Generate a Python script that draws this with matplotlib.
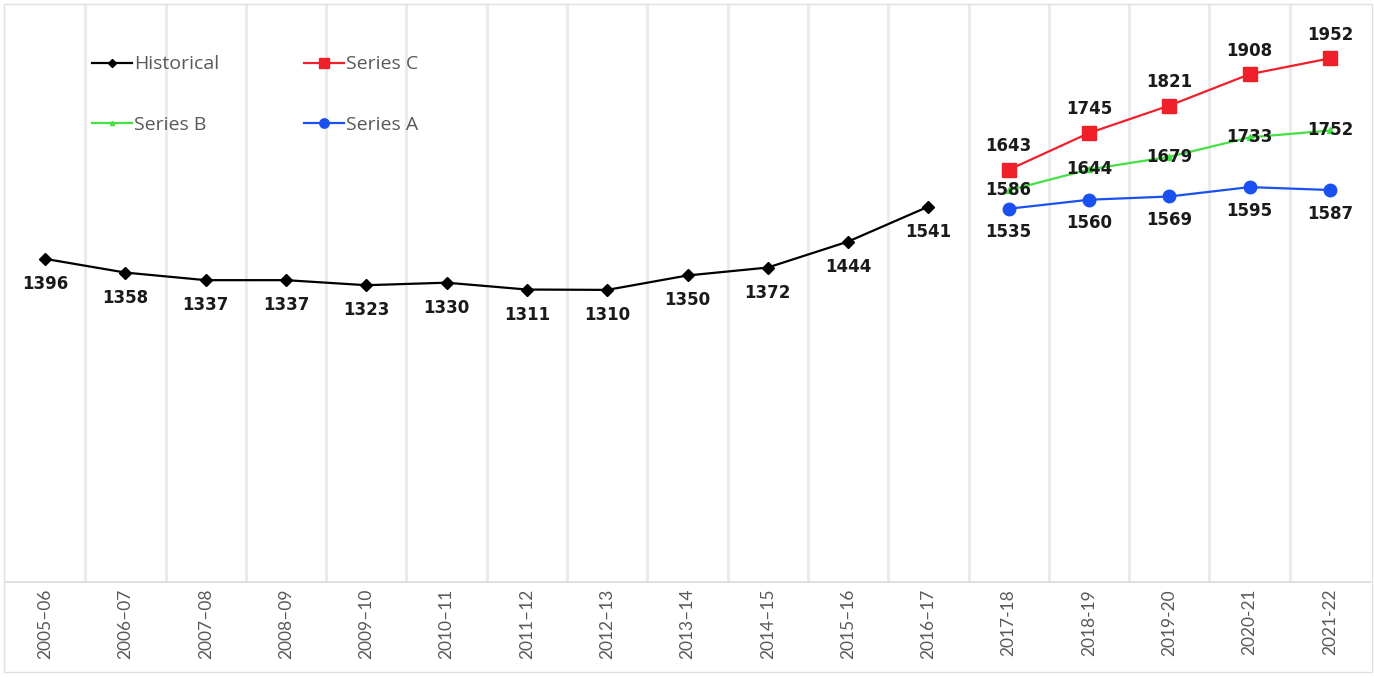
import matplotlib.pyplot as plt
from matplotlib.patches import Rectangle

years = ['2005–06', '2006–07', '2007–08', '2008–09', '2009–10', '2010–11',
         '2011–12', '2012–13', '2013–14', '2014–15', '2015–16', '2016–17',
         '2017-18', '2018-19', '2019-20', '2020-21', '2021-22']
historical = [1396, 1358, 1337, 1337, 1323, 1330, 1311, 1310, 1350, 1372, 1444, 1541]
series_c = [1643, 1745, 1821, 1908, 1952]
series_b = [1586, 1644, 1679, 1733, 1752]
series_a = [1535, 1560, 1569, 1595, 1587]

fig = plt.figure(figsize=(13.74, 6.77), dpi=100)
ax = fig.add_axes([5 / 1374, 95 / 677, 1365 / 1374, 577 / 677])

xh = list(range(len(historical)))
xp = list(range(len(historical), len(years)))

lh, = ax.plot(xh, historical, color='black', lw=1.6, marker='D', ms=6, label='Historical', zorder=3)
lc, = ax.plot(xp, series_c, color='#f0202a', lw=1.6, marker='s', ms=10, label='Series C', zorder=3)
lb, = ax.plot(xp, series_b, color='#44e044', lw=1.6, marker='^', ms=4, label='Series B', zorder=3)
la, = ax.plot(xp, series_a, color='#1a50f0', lw=1.6, marker='o', ms=9, label='Series A', zorder=3)

lab = dict(fontsize=12, fontweight='bold', color='#1a1a1a', ha='center', va='center', zorder=5)
for x, v in zip(xh, historical):
    ax.annotate(str(v), (x, v), xytext=(0, -18), textcoords='offset points', **lab)
for x, v in zip(xp, series_c):
    ax.annotate(str(v), (x, v), xytext=(0, 17), textcoords='offset points', **lab)
for x, v in zip(xp, series_b):
    ax.annotate(str(v), (x, v), xytext=(0, 0), textcoords='offset points', **lab)
for x, v in zip(xp, series_a):
    ax.annotate(str(v), (x, v), xytext=(0, -17), textcoords='offset points', **lab)

for b in range(len(years) - 1):
    ax.axvline(b + 0.5, color='#ebebeb', lw=2.2, zorder=0)

ax.set_xlim(-0.5, len(years) - 0.5)
ax.set_ylim(500, 2100)
ax.set_xticks(range(len(years)))
ax.set_xticklabels(years, rotation=90, fontsize=12.5, family='Lato', color='#595959')
ax.tick_params(axis='x', length=0, pad=5)
ax.set_yticks([])
for s in ['left', 'right', 'top']:
    ax.spines[s].set_visible(False)
ax.spines['bottom'].set_color('#d9d9d9')
ax.spines['bottom'].set_linewidth(1.2)

leg = ax.legend([lh, lb, lc, la], ['Historical', 'Series B', 'Series C', 'Series A'],
                ncol=2, frameon=False, loc='upper left', bbox_to_anchor=(0.051, 0.943),
                handlelength=2.05, handletextpad=0.11, columnspacing=4.35, labelspacing=2.2,
                markerscale=0.75, prop={'family': 'Open Sans', 'size': 14})
for t in leg.get_texts():
    t.set_color('#595959')

fig.patches.append(Rectangle((4 / 1374, 5 / 677), 1368 / 1374, 668 / 677, transform=fig.transFigure,
                             fill=False, edgecolor='#e0e0e0', lw=1))

fig.savefig('out.png', dpi=100)
